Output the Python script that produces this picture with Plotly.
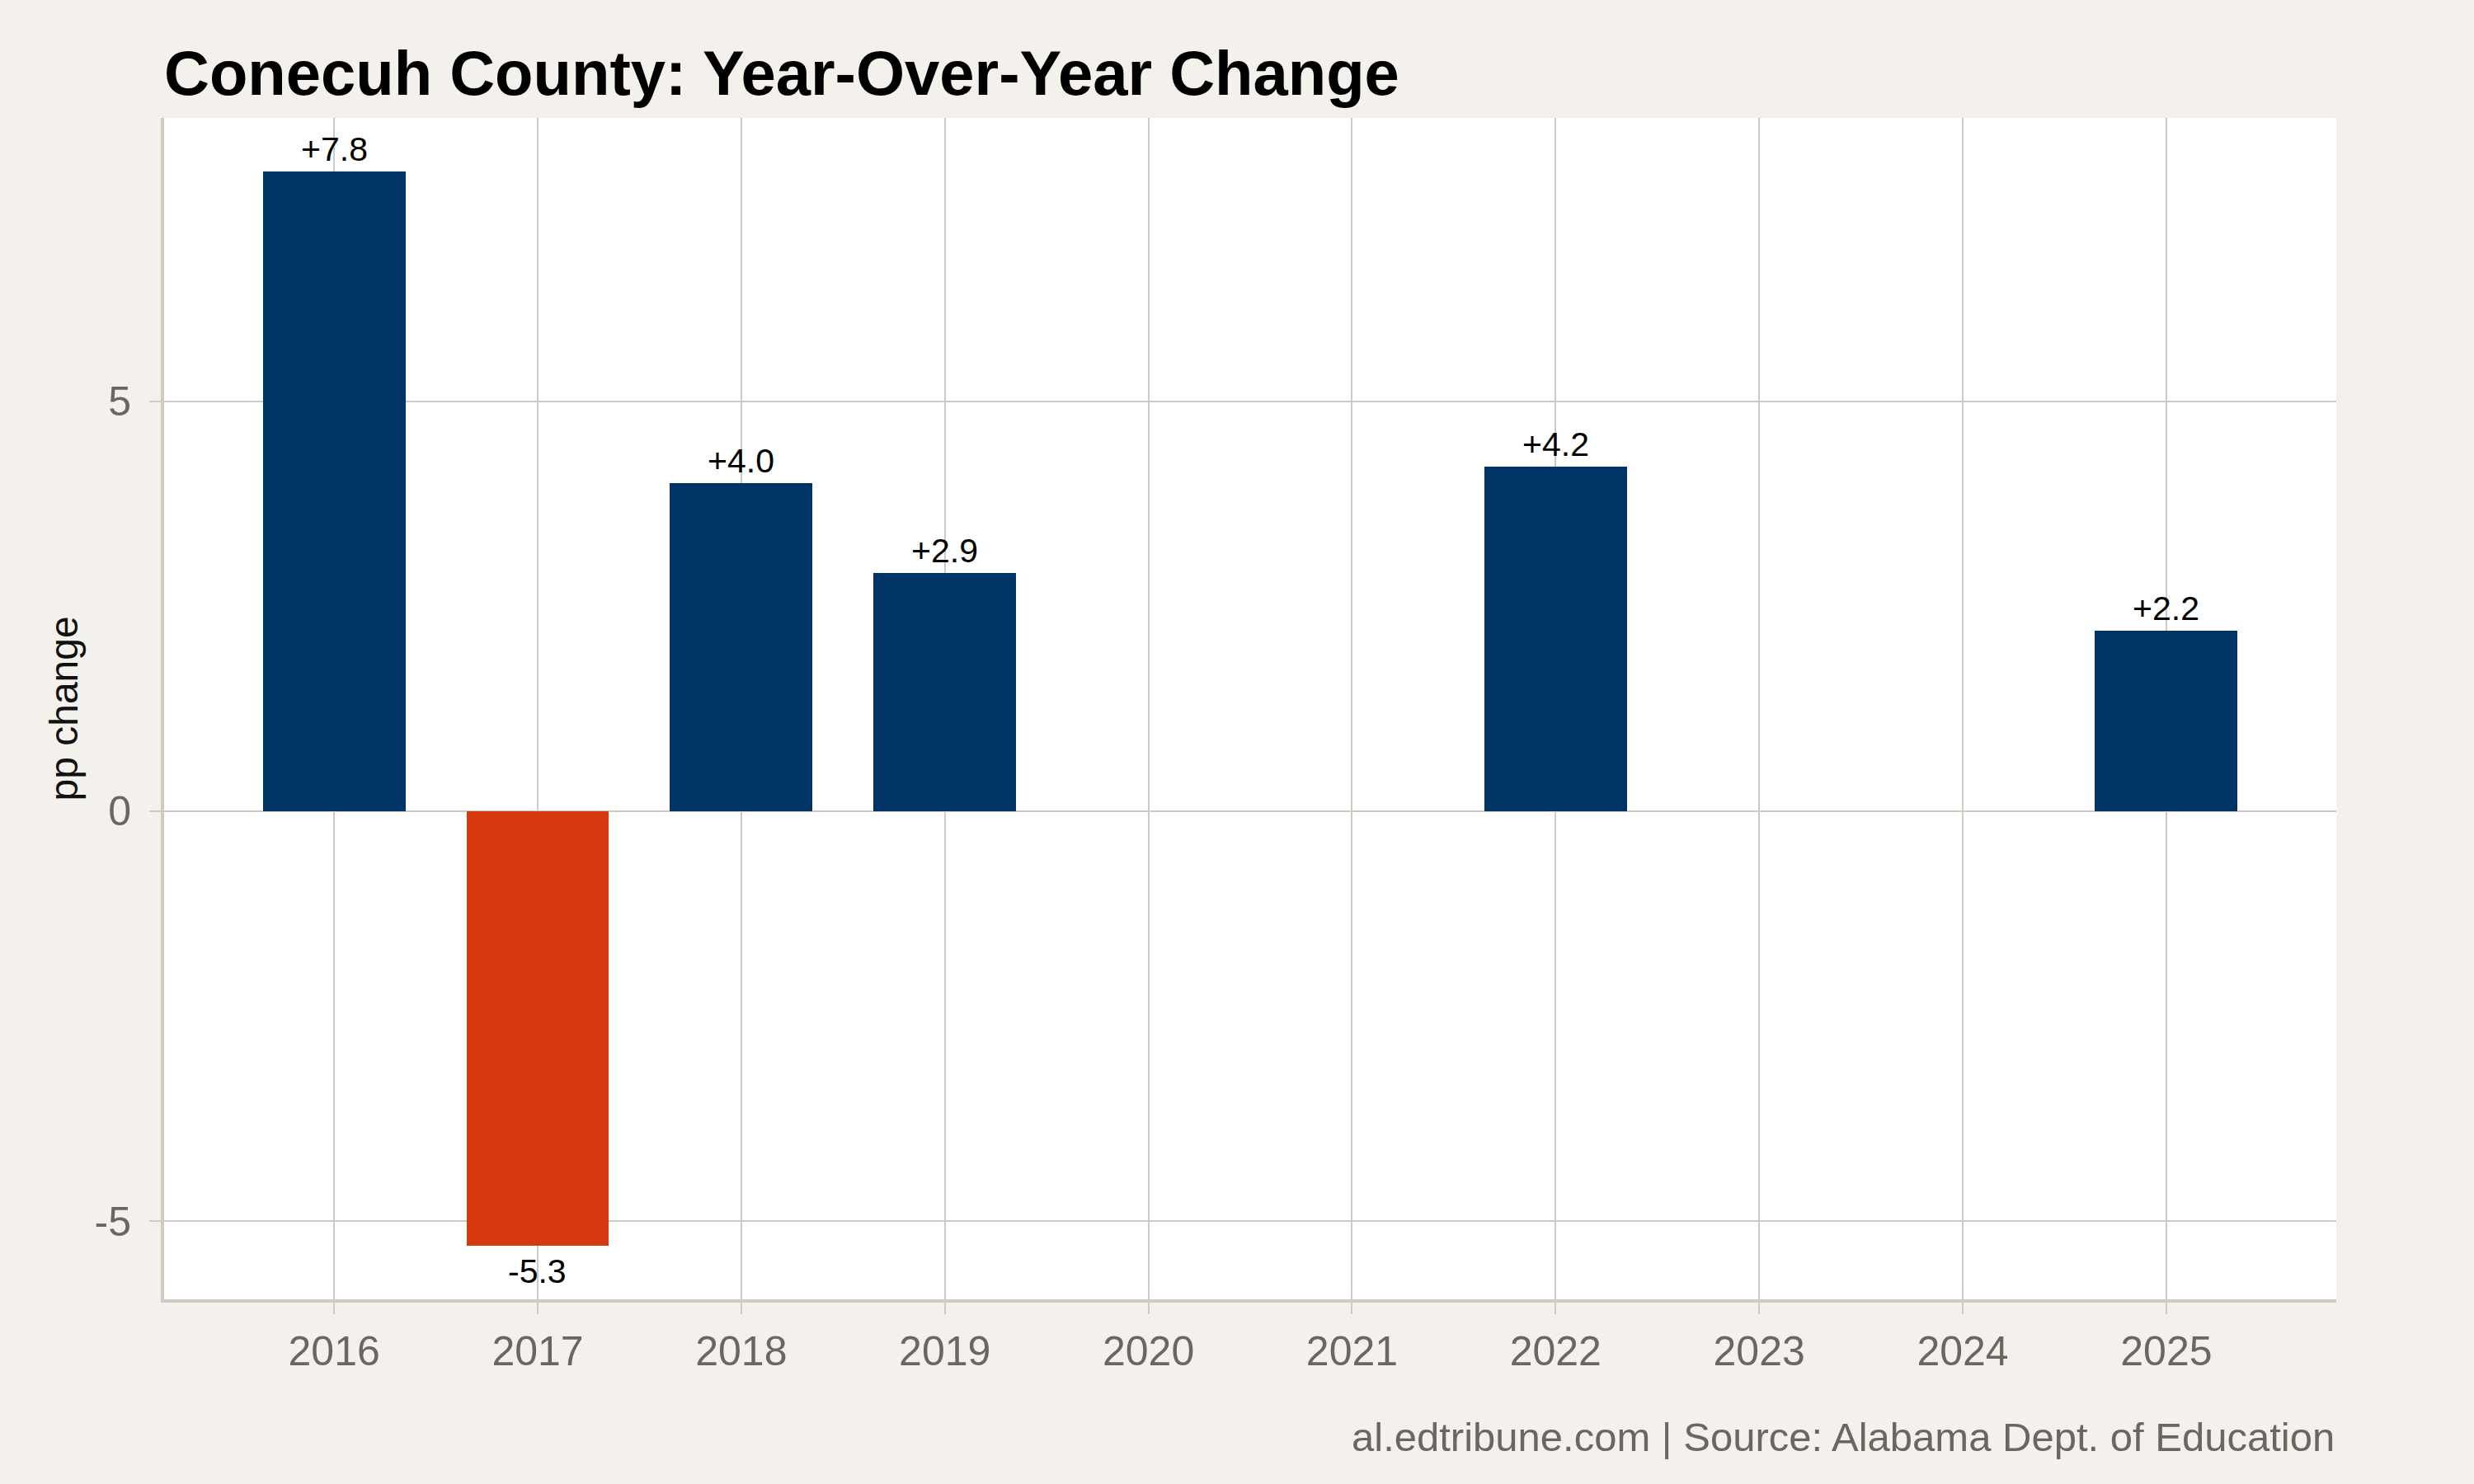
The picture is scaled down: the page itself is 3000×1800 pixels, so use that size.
import plotly.graph_objects as go

years = [2016, 2017, 2018, 2019, 2022, 2025]
changes = [7.8, -5.3, 4.0, 2.9, 4.2, 2.2]
tick_years = [2016, 2017, 2018, 2019, 2020, 2021, 2022, 2023, 2024, 2025]
y_ticks = [-5, 0, 5]

title_text = "Conecuh County: Year-Over-Year Change"
y_title = "pp change"
caption = "al.edtribune.com | Source: Alabama Dept. of Education"

NAVY = "#003366"
RED = "#D5390D"
BG = "#F4F1EC"
GRID = "#CFCAC2"
FONT = "Liberation Sans, Arial, Helvetica, sans-serif"

colors = [NAVY if v >= 0 else RED for v in changes]

fig = go.Figure()
fig.add_trace(go.Bar(
    x=years, y=changes, width=0.7, marker=dict(color=colors, line=dict(width=0)),
    hoverinfo="skip", showlegend=False,
))

for x, v in zip(years, changes):
    fig.add_annotation(
        x=x, y=v, xref="x", yref="y",
        text=f"{v:+.1f}",
        showarrow=False,
        yanchor="bottom" if v >= 0 else "top",
        yshift=2 if v >= 0 else -6,
        font=dict(family=FONT, size=41, color="#000000"),
    )

fig.add_annotation(
    x=-0.0463, y=0.5, xref="paper", yref="paper", text=y_title,
    textangle=-90, showarrow=False, xanchor="center", yanchor="middle",
    font=dict(family=FONT, size=48, color="#111111"),
)

fig.add_annotation(
    x=1, y=-0.1165, xref="paper", yref="paper", text=caption,
    showarrow=False, xanchor="right", yanchor="middle",
    font=dict(family=FONT, size=49, color="#6B6660"),
)

fig.update_layout(
    width=3000, height=1800,
    paper_bgcolor=BG, plot_bgcolor="#FFFFFF",
    margin=dict(l=199, r=167, t=143, b=224),
    title=dict(
        text=f"<b>{title_text}</b>", x=0, xref="paper", xanchor="left",
        y=1 - 88 / 1800, yref="container", yanchor="middle",
        font=dict(family=FONT, size=76, color="#000000"),
    ),
    bargap=0,
)

fig.update_xaxes(
    range=[2015.165, 2025.835], tickmode="array", tickvals=tick_years,
    ticktext=[str(t) for t in tick_years],
    showgrid=True, gridcolor=GRID, gridwidth=2,
    showline=True, linecolor=GRID, linewidth=4,
    ticks="outside", ticklen=14, tickwidth=2, tickcolor=GRID,
    tickfont=dict(family=FONT, size=50, color="#6B6660"),
    ticklabelstandoff=2, zeroline=False,
)
fig.update_yaxes(
    range=[-5.955, 8.455], tickmode="array", tickvals=y_ticks,
    ticktext=[str(t) for t in y_ticks],
    showgrid=True, gridcolor=GRID, gridwidth=2,
    showline=True, linecolor=GRID, linewidth=4,
    ticks="outside", ticklen=14, tickwidth=2, tickcolor=GRID,
    tickfont=dict(family=FONT, size=50, color="#6B6660"),
    ticklabelstandoff=12, zeroline=False,
)

fig.write_html("out.html")
